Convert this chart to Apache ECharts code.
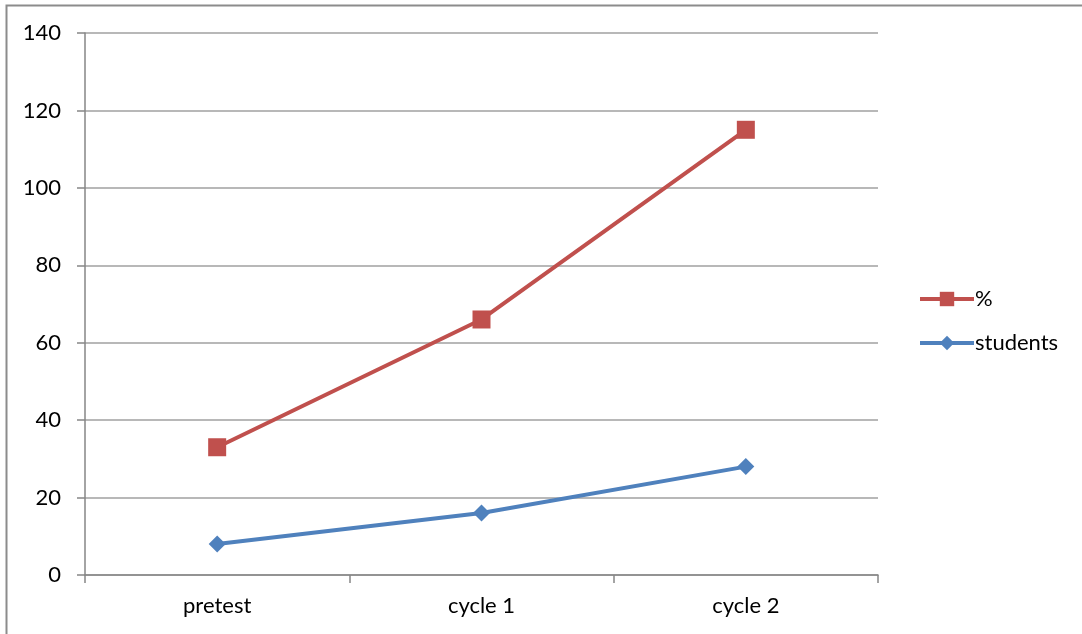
<!DOCTYPE html>
<html><head><meta charset="utf-8">
<script src="https://cdn.jsdelivr.net/npm/echarts@6/dist/echarts.min.js"></script>
<style>html,body{margin:0;padding:0;background:#fff}#c{width:1082px;height:634px}</style>
</head><body><div id="c"></div>
<script>
const categories = ['pretest', 'cycle 1', 'cycle 2'];
const percentValues = [33, 66, 115];
const studentValues = [8, 16, 28];
const yTicks = [0, 20, 40, 60, 80, 100, 120, 140];

const chart = echarts.init(document.getElementById('c'));
const font = 'Lato, "Open Sans", sans-serif';
chart.setOption({
  animation: false,
  backgroundColor: '#fff',
  textStyle: { fontFamily: font },
  graphic: [{
    type: 'rect', shape: { x: 6.5, y: 5.5, width: 1090, height: 650 },
    style: { fill: 'none', stroke: '#8c8c8c', lineWidth: 2 }, silent: true
  }],
  grid: { left: 85, right: 204, top: 33, bottom: 59, containLabel: false },
  legend: {
    orient: 'vertical', left: 913, top: 283,
    itemWidth: 54, itemHeight: 18, itemGap: 22,
    lineStyle: { width: 4 },
    textStyle: { fontSize: 22, color: '#000', fontFamily: font, padding: [0, 0, 0, -4] },
    data: ['%', 'students']
  },
  xAxis: {
    type: 'category', data: categories, boundaryGap: true,
    axisLine: { lineStyle: { color: '#868686', width: 1.5 } },
    axisTick: { show: true, length: 8, lineStyle: { color: '#868686', width: 1.5 } },
    axisLabel: { fontSize: 22, color: '#000', margin: 20, fontFamily: font }
  },
  yAxis: {
    type: 'value', min: yTicks[0], max: yTicks[yTicks.length - 1], interval: 20,
    axisLine: { show: true, lineStyle: { color: '#868686', width: 1.5 } },
    axisTick: { show: true, length: 8, lineStyle: { color: '#868686', width: 1.5 } },
    splitLine: { lineStyle: { color: '#a0a0a0', width: 1.5 } },
    axisLabel: { fontSize: 22, color: '#000', margin: 24, fontFamily: font }
  },
  series: [
    {
      name: '%', type: 'line', data: percentValues,
      symbol: 'rect', symbolSize: 18,
      lineStyle: { color: '#c0504d', width: 4 },
      itemStyle: { color: '#c0504d' }
    },
    {
      name: 'students', type: 'line', data: studentValues,
      symbol: 'diamond', symbolSize: 17,
      lineStyle: { color: '#4f81bd', width: 4 },
      itemStyle: { color: '#4f81bd' }
    }
  ]
});
</script></body></html>
